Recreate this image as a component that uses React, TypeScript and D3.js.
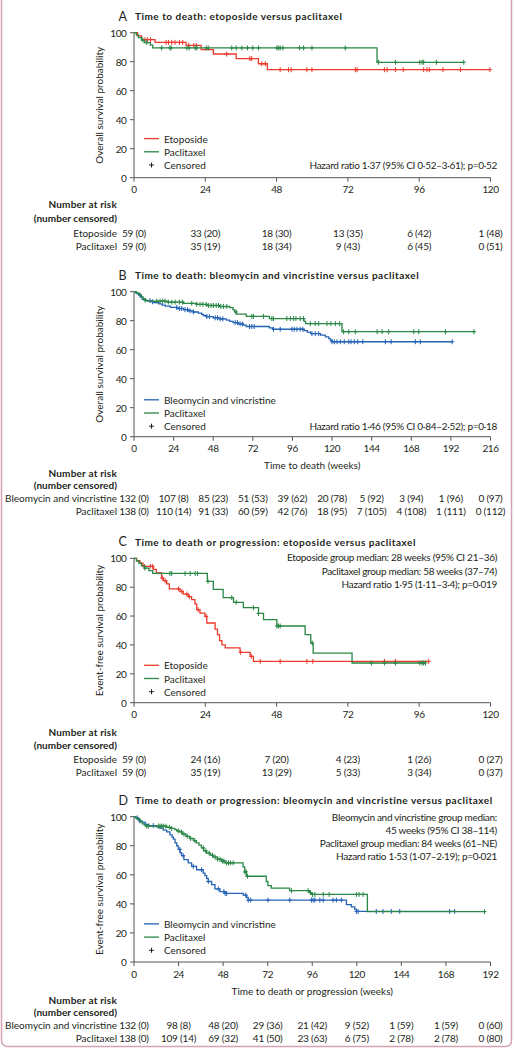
import React from "react";
import * as d3 from "d3";

const FONT = "Lato, 'Open Sans', 'DejaVu Sans', sans-serif";
const INK = "#231f20";
const AXIS = "#555555";
const RED = "#ec3a2c";
const GREEN = "#2a8746";
const BLUE = "#2563b5";

// ---------- tick labels ----------
const xTicks120 = [0, 24, 48, 72, 96, 120];
const xTicks216 = [0, 24, 48, 72, 96, 120, 144, 168, 192, 216];
const xTicks192 = [0, 24, 48, 72, 96, 120, 144, 168, 192];
const yTicks = [0, 20, 40, 60, 80, 100];

// ---------- Panel A: time to death, etoposide vs paclitaxel ----------
const aEtoStepT = [1.2, 2.6, 7.1, 17.5, 22.6, 26.7, 34.4, 41.9, 44.9];
const aEtoStepS = [97.8, 95.2, 93.3, 91.2, 88.3, 85.3, 82.1, 78.6, 74.5];
const aEtoCens = [3.7, 4.5, 5.6, 10.8, 11.6, 12.7, 13.8, 15.3, 16.4, 18.4, 20.1, 21, 31.2, 39, 39.6, 43, 44.2, 49.2, 52, 52.9, 58.2, 59.9, 74.5, 75.1, 84.3, 85.2, 88, 90.6, 97.5, 98.6, 99.4, 104, 109.9, 119.8];
const aEtoEnd = 119.8;
const aPacStepT = [0.8, 1.5, 2.5, 3.5, 5.5, 6.3, 81.8];
const aPacStepS = [98.3, 96.6, 94.9, 93.2, 91.4, 89.5, 79.6];
const aPacCens = [3, 4.3, 9.3, 12.1, 12.5, 17.8, 18.6, 20.6, 21.1, 24.3, 25, 32.9, 34.4, 36.3, 38.2, 40, 41.9, 48.1, 48.6, 49.2, 50.1, 55.7, 57.1, 59.9, 71.1, 82.3, 88, 96.2, 97, 97.5, 101.8, 111];
const aPacEnd = 111;
const aEtoAtRisk = [59, 33, 18, 13, 6, 1];
const aEtoCensored = [0, 20, 30, 35, 42, 48];
const aPacAtRisk = [59, 35, 18, 9, 6, 0];
const aPacCensored = [0, 19, 34, 43, 45, 51];

// ---------- Panel B: time to death, bleomycin+vincristine vs paclitaxel ----------
const bBleoStepT = [1, 2, 3, 4, 5, 7, 10, 12, 15, 17, 19, 22, 26, 30, 33, 36, 39, 41, 42, 44, 48, 52, 56, 58, 60, 63, 66, 68, 82, 84, 103, 105, 107, 113, 116, 118, 119, 120];
const bBleoStepS = [99.2, 98.5, 97.7, 96.2, 94.7, 93.9, 93.1, 92.4, 91.6, 90.8, 90.0, 89.2, 88.4, 87.6, 86.8, 86.0, 85.2, 84.4, 83.6, 82.8, 82.0, 81.2, 80.4, 79.6, 78.7, 77.8, 76.9, 76.0, 75.0, 74.1, 73.1, 72.1, 71.1, 70.0, 68.9, 67.7, 66.6, 65.5];
const bBleoCens = [3.6, 9.7, 11.3, 25.9, 27.5, 28.9, 30.9, 32.4, 34, 36, 44.1, 45.7, 49.2, 50.6, 52.2, 53.8, 61.3, 62.7, 64.3, 65.7, 70, 71.4, 72.8, 84.5, 88.6, 95.7, 97.1, 98.7, 100.7, 102.3, 107.8, 109.8, 111.9, 120, 121.4, 123, 125, 127.4, 130.1, 131.5, 133.5, 135.5, 138.6, 152.3, 155.8, 170.5, 173.5, 192.8];
const bBleoEnd = 192.8;
const bPacStepT = [1.5, 2.5, 3.5, 4.5, 5.5, 6.5, 8, 20, 30, 38, 44, 52, 58, 60, 61, 62, 68, 82, 103, 104, 126];
const bPacStepS = [99.3, 98.5, 97.8, 96.4, 95, 94.2, 93.5, 92.8, 92, 91.3, 90.5, 89.8, 89, 87.5, 86, 84.6, 83, 81.5, 79.5, 78, 72.4];
const bPacCens = [6.7, 13.8, 15.8, 17.4, 18.8, 20.8, 22.9, 24.9, 27.5, 29.5, 35, 38, 40, 41.7, 43.7, 45.1, 46.7, 48.1, 49.8, 51.2, 52.6, 54.2, 56.2, 61.9, 71.4, 72.4, 78.5, 83.5, 84.5, 92.6, 94.7, 96.7, 98.1, 100.7, 102.7, 106.8, 109.8, 111.9, 116.9, 119.3, 122, 124.6, 127, 130.1, 134.1, 147.3, 150.3, 154.3, 169.5, 172.5, 188.7, 206];
const bPacEnd = 206.5;
const bBleoAtRisk = [132, 107, 85, 51, 39, 20, 5, 3, 1, 0];
const bBleoCensored = [0, 8, 23, 53, 62, 78, 92, 94, 96, 97];
const bPacAtRisk = [138, 110, 91, 60, 42, 18, 7, 4, 1, 0];
const bPacCensored = [0, 14, 33, 59, 76, 95, 105, 108, 111, 112];

// ---------- Panel C: death or progression, etoposide vs paclitaxel ----------
const cEtoStepT = [0.9, 2.0, 3.0, 6.5, 7.5, 9.3, 9.9, 11, 11.9, 15.5, 16.6, 18.3, 19.4, 20.5, 21.1, 22.2, 23.9, 24.5, 27.3, 28.1, 28.8, 29.6, 30.7, 35.7, 39.1, 40.2];
const cEtoStepS = [98.3, 96.6, 94.4, 92.3, 89.9, 86.4, 84.5, 82.3, 78.8, 77.0, 75.2, 73.4, 71.4, 68.5, 64.4, 62.1, 59.8, 55.2, 51.0, 47.1, 43.0, 40.0, 37.9, 34.9, 32.1, 28.6];
const cEtoCens = [3.5, 5.5, 6.3, 9.5, 10.5, 15, 16.1, 17.8, 18.6, 21.6, 24.3, 35.9, 39.5, 42.5, 49.2, 58.2, 60.2, 84.3, 88, 99.2];
const cEtoEnd = 99.2;
const cPacStepT = [0.8, 1.6, 2.5, 3.5, 5, 6.3, 24.7, 26.7, 30, 33.5, 36.8, 41.9, 43.6, 48.1, 57.6, 59.5, 60.3, 73.4];
const cPacStepS = [98.3, 96.6, 94.9, 93.2, 91.5, 89.5, 84.0, 78.5, 72.8, 69.5, 65.8, 61.8, 57.6, 53.1, 47.2, 41.3, 34.4, 27.5];
const cPacCens = [3.7, 12.1, 12.7, 17.2, 18.9, 20.6, 21.4, 24.9, 32.9, 34.4, 40.2, 41.9, 48.1, 48.6, 49.2, 60, 79.9, 84.3, 88, 96.2, 97, 97.5, 98.1];
const cPacEnd = 98.1;
const cEtoAtRisk = [59, 24, 7, 4, 1, 0];
const cEtoCensored = [0, 16, 20, 23, 26, 27];
const cPacAtRisk = [59, 35, 13, 5, 3, 0];
const cPacCensored = [0, 19, 29, 33, 34, 37];

// ---------- Panel D: death or progression, bleomycin+vincristine vs paclitaxel ----------
const dBleoStepT = [1, 2, 3, 4.5, 6, 8, 12, 14, 15.8, 17.6, 19.4, 20.5, 21.2, 22.1, 23, 23.8, 24.8, 25.6, 26.9, 29.2, 31, 33.7, 37.3, 38.2, 39.1, 40, 41.8, 43.6, 46.3, 49, 58.8, 60.6, 61.5, 114.4, 117.1, 118.9, 119.8];
const dBleoStepS = [99.2, 98.5, 97, 96.2, 94.7, 93.9, 93.1, 92.2, 90.8, 89.5, 87.5, 86, 84.5, 82, 80, 77.5, 75.2, 73.2, 70.5, 68.2, 65.8, 63.5, 61.1, 59.4, 57.5, 55.4, 53.2, 50.3, 48.5, 47.2, 46, 44.5, 42.6, 39.5, 38, 36.2, 34.8];
const dBleoCens = [1.8, 3.2, 10.4, 24.7, 26.5, 31.9, 36.4, 40, 45.4, 48.4, 49.1, 49.9, 60.2, 61.5, 62.8, 72.2, 83.9, 95.6, 96.5, 97.4, 100.1, 101.9, 107.2, 109, 111.7, 119.8, 120.7, 130.5, 134.1, 138.6, 143.1, 170, 172.7];
const dBleoEnd = 172.7;
const dPacStepT = [0.8, 1.5, 2.5, 3.5, 4.5, 5.5, 6.5, 17.4, 20, 22, 23, 24.5, 26, 28, 30, 32, 33.6, 35, 36.3, 37.5, 39, 41, 42.6, 45, 47, 49, 58.7, 59.6, 60.5, 71.2, 72.1, 73.9, 83.8, 94.5, 95.4, 125.7];
const dPacStepS = [99.3, 98.6, 97.8, 96.4, 95, 94.2, 93.5, 92.7, 91.9, 91.1, 90.3, 89.5, 88, 86.5, 85, 83.5, 82, 80.5, 78.5, 76.5, 75, 73.5, 72.2, 70.8, 69.5, 68.2, 65.5, 62, 59, 55.4, 52.5, 50.8, 49.1, 47.8, 46.5, 34.7];
const dPacCens = [6.8, 7.7, 13.1, 14, 14.9, 15.8, 17.2, 19, 20.3, 23.8, 25.6, 26.9, 28.7, 30.5, 32.8, 37.3, 38.7, 40.5, 42.3, 43.7, 45, 46.3, 47.7, 48.4, 49.9, 50.9, 52, 53.4, 59.7, 60.4, 61.1, 84.8, 93.8, 95, 96.1, 97.4, 101.9, 105.1, 119.8, 121.2, 123.4, 188.8];
const dPacEnd = 188.8;
const dBleoAtRisk = [132, 98, 48, 29, 21, 9, 1, 1, 0];
const dBleoCensored = [0, 8, 20, 36, 42, 52, 59, 59, 60];
const dPacAtRisk = [138, 109, 69, 41, 23, 6, 2, 2, 0];
const dPacCensored = [0, 14, 32, 50, 63, 75, 78, 78, 80];

// ---------- panel definitions ----------
type Series = {
  name: string;
  color: string;
  stepT: number[];
  stepS: number[];
  cens: number[];
  end: number;
  atRisk: number[];
  censored: number[];
};

type Panel = {
  letter: string;
  title: string;
  yLabel: string;
  xTicks: number[];
  y100: number;
  y0: number;
  series: Series[];
  stats: string[];
  statsTop: number | null;
  xTitle: string | null;
  legendBottom: number;
  narY: number[];
};

const X0 = 134;
const X1 = 490.5;

const panels: Panel[] = [
  {
    letter: "A",
    title: "Time to death: etoposide versus paclitaxel",
    yLabel: "Overall survival probability",
    xTicks: xTicks120,
    y100: 32.7,
    y0: 177.7,
    series: [
      { name: "Etoposide", color: RED, stepT: aEtoStepT, stepS: aEtoStepS, cens: aEtoCens, end: aEtoEnd, atRisk: aEtoAtRisk, censored: aEtoCensored },
      { name: "Paclitaxel", color: GREEN, stepT: aPacStepT, stepS: aPacStepS, cens: aPacCens, end: aPacEnd, atRisk: aPacAtRisk, censored: aPacCensored },
    ],
    stats: ["Hazard ratio 1·37 (95% CI 0·52–3·61); p=0·52"],
    statsTop: null,
    xTitle: null,
    legendBottom: 12.7,
    narY: [26.6, 40.3, 55, 68.3],
  },
  {
    letter: "B",
    title: "Time to death: bleomycin and vincristine versus paclitaxel",
    yLabel: "Overall survival probability",
    xTicks: xTicks216,
    y100: 291.7,
    y0: 436.7,
    series: [
      { name: "Bleomycin and vincristine", color: BLUE, stepT: bBleoStepT, stepS: bBleoStepS, cens: bBleoCens, end: bBleoEnd, atRisk: bBleoAtRisk, censored: bBleoCensored },
      { name: "Paclitaxel", color: GREEN, stepT: bPacStepT, stepS: bPacStepS, cens: bPacCens, end: bPacEnd, atRisk: bPacAtRisk, censored: bPacCensored },
    ],
    stats: ["Hazard ratio 1·46 (95% CI 0·84–2·52); p=0·18"],
    statsTop: null,
    xTitle: "Time to death (weeks)",
    legendBottom: 10.5,
    narY: [36, 47.8, 61.3, 74.3],
  },
  {
    letter: "C",
    title: "Time to death or progression: etoposide versus paclitaxel",
    yLabel: "Event-free survival probability",
    xTicks: xTicks120,
    y100: 558.3,
    y0: 702.7,
    series: [
      { name: "Etoposide", color: RED, stepT: cEtoStepT, stepS: cEtoStepS, cens: cEtoCens, end: cEtoEnd, atRisk: cEtoAtRisk, censored: cEtoCensored },
      { name: "Paclitaxel", color: GREEN, stepT: cPacStepT, stepS: cPacStepS, cens: cPacCens, end: cPacEnd, atRisk: cPacAtRisk, censored: cPacCensored },
    ],
    stats: [
      "Etoposide group median: 28 weeks (95% CI 21–36)",
      "Paclitaxel group median: 58 weeks (37–74)",
      "Hazard ratio 1·95 (1·11–3·4); p=0·019",
    ],
    statsTop: -1,
    xTitle: null,
    legendBottom: 11,
    narY: [29, 42.3, 56.6, 69.6],
  },
  {
    letter: "D",
    title: "Time to death or progression: bleomycin and vincristine versus paclitaxel",
    yLabel: "Event-free survival probability",
    xTicks: xTicks192,
    y100: 816.7,
    y0: 962,
    series: [
      { name: "Bleomycin and vincristine", color: BLUE, stepT: dBleoStepT, stepS: dBleoStepS, cens: dBleoCens, end: dBleoEnd, atRisk: dBleoAtRisk, censored: dBleoCensored },
      { name: "Paclitaxel", color: GREEN, stepT: dPacStepT, stepS: dPacStepS, cens: dPacCens, end: dPacEnd, atRisk: dPacAtRisk, censored: dPacCensored },
    ],
    stats: [
      "Bleomycin and vincristine group median:",
      "45 weeks (95% CI 38–114)",
      "Paclitaxel group median: 84 weeks (61–NE)",
      "Hazard ratio 1·53 (1·07–2·19); p=0·021",
    ],
    statsTop: 0,
    xTitle: "Time to death or progression (weeks)",
    legendBottom: 11.7,
    narY: [38, 50.3, 63, 76.3],
  },
];

function survAt(s: Series, t: number): number {
  let v = 100;
  for (let i = 0; i < s.stepT.length; i++) if (s.stepT[i] <= t) v = s.stepS[i];
  return v;
}

function KMPanel({ p }: { p: Panel }) {
  const x = d3.scaleLinear().domain([0, p.xTicks[p.xTicks.length - 1]]).range([X0, X1]);
  const y = d3.scaleLinear().domain([0, 100]).range([p.y0, p.y100]);
  const line = d3
    .line<[number, number]>()
    .x((d) => x(d[0]))
    .y((d) => y(d[1]))
    .curve(d3.curveStepAfter);

  const fs = 10;
  const legRow = (i: number) => p.y0 - p.legendBottom - 13.2 * (2 - i);
  const statsY = (i: number) => (p.statsTop === null ? legRow(2) : p.y100 + p.statsTop + 13.2 * i);

  return (
    <g>
      {/* title */}
      <text x={118.5} y={p.y100 - 16.7} dominantBaseline="central" fontSize={12.5} fill={INK}>
        {p.letter}
      </text>
      <text x={135} y={p.y100 - 16.7} dominantBaseline="central" fontSize={fs} fontWeight="bold" letterSpacing={0.5} fill={INK}>
        {p.title}
      </text>

      {/* y axis */}
      <line x1={X0} x2={X0} y1={y(100)} y2={y(0)} stroke={AXIS} strokeWidth={1} />
      {yTicks.map((t) => (
        <g key={"y" + t}>
          <line x1={X0 - 4} x2={X0} y1={y(t)} y2={y(t)} stroke={AXIS} strokeWidth={1} />
          <text x={126.5} y={y(t)} textAnchor="end" dominantBaseline="central" fontSize={fs} letterSpacing={-0.4} fill={INK}>
            {t}
          </text>
        </g>
      ))}
      <text
        transform={`translate(98.5,${(p.y0 + p.y100) / 2}) rotate(-90)`}
        textAnchor="middle"
        dominantBaseline="central"
        fontSize={fs}
        fill={INK}
      >
        {p.yLabel}
      </text>

      {/* x axis */}
      <line x1={X0} x2={X1} y1={p.y0} y2={p.y0} stroke={AXIS} strokeWidth={1} />
      {p.xTicks.map((t) => (
        <g key={"x" + t}>
          <line x1={x(t)} x2={x(t)} y1={p.y0} y2={p.y0 + 4} stroke={AXIS} strokeWidth={1} />
          <text x={x(t)} y={p.y0 + 11.5} textAnchor="middle" dominantBaseline="central" fontSize={fs} letterSpacing={-0.4} fill={INK}>
            {t}
          </text>
        </g>
      ))}
      {p.xTitle && (
        <text x={(X0 + X1) / 2} y={p.y0 + 28.5} textAnchor="middle" dominantBaseline="central" fontSize={fs} fill={INK}>
          {p.xTitle}
        </text>
      )}

      {/* curves */}
      {p.series.map((s) => {
        const pts: [number, number][] = [[0, 100]];
        s.stepT.forEach((t, i) => pts.push([t, s.stepS[i]]));
        pts.push([s.end, s.stepS[s.stepS.length - 1]]);
        return (
          <g key={s.name}>
            <path d={line(pts) || ""} fill="none" stroke={s.color} strokeWidth={1.3} />
            {s.cens.map((c, i) => {
              const cx = x(c);
              const cy = y(survAt(s, c));
              return (
                <g key={i} stroke={s.color} strokeWidth={1}>
                  <line x1={cx} x2={cx} y1={cy - 2.5} y2={cy + 2.5} />
                  <line x1={cx - 2} x2={cx + 2} y1={cy} y2={cy} />
                </g>
              );
            })}
          </g>
        );
      })}

      {/* legend */}
      {p.series.map((s, i) => (
        <g key={"leg" + i}>
          <line x1={144} x2={159} y1={legRow(i)} y2={legRow(i)} stroke={s.color} strokeWidth={1.3} />
          <text x={164} y={legRow(i)} dominantBaseline="central" fontSize={fs} fill={INK}>
            {s.name}
          </text>
        </g>
      ))}
      <g stroke={INK} strokeWidth={1}>
        <line x1={151.5} x2={151.5} y1={legRow(2) - 2.5} y2={legRow(2) + 2.5} />
        <line x1={149} x2={154} y1={legRow(2)} y2={legRow(2)} />
      </g>
      <text x={164} y={legRow(2)} dominantBaseline="central" fontSize={fs} fill={INK}>
        Censored
      </text>

      {/* statistics */}
      {p.stats.map((st, i) => (
        <text key={"st" + i} x={497} y={statsY(i)} textAnchor="end" dominantBaseline="central" fontSize={fs} letterSpacing={-0.3} fill={INK}>
          {st}
        </text>
      ))}

      {/* number at risk */}
      <text x={117} y={p.y0 + p.narY[0]} textAnchor="end" dominantBaseline="central" fontSize={fs} fontWeight="bold" letterSpacing={0.2} fill={INK}>
        Number at risk
      </text>
      <text x={117} y={p.y0 + p.narY[1]} textAnchor="end" dominantBaseline="central" fontSize={fs} fontWeight="bold" letterSpacing={0.05} fill={INK}>
        (number censored)
      </text>
      {p.series.map((s, r) => (
        <g key={"nar" + r}>
          <text x={117} y={p.y0 + p.narY[2 + r]} textAnchor="end" dominantBaseline="central" fontSize={fs} fill={INK}>
            {s.name}
          </text>
          {s.atRisk.map((n, k) => (
            <text
              key={k}
              x={x(p.xTicks[k])}
              y={p.y0 + p.narY[2 + r]}
              textAnchor="middle"
              dominantBaseline="central"
              fontSize={fs}
              letterSpacing={-0.2}
              fill={INK}
            >
              {`${n} (${s.censored[k]})`}
            </text>
          ))}
        </g>
      ))}
    </g>
  );
}

export default function App() {
  return (
    <svg
      width={514}
      height={1050}
      style={{ position: "absolute", left: 0, top: 0, background: "#ffffff" }}
      fontFamily={FONT}
    >
      <rect x={0} y={0} width={514} height={1050} fill="#ffffff" />
      <path
        d="M1.5,0 L1.5,1040 Q1.5,1046.5 8,1046.5 L505,1046.5 Q511.5,1046.5 511.5,1040 L511.5,0"
        fill="none"
        stroke="#d7a3b3"
        strokeWidth={1.5}
      />
      {panels.map((p) => (
        <KMPanel key={p.letter} p={p} />
      ))}
    </svg>
  );
}
